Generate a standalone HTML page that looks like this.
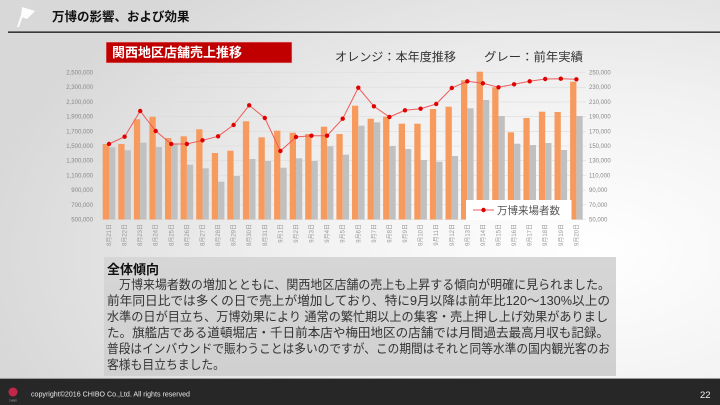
<!DOCTYPE html>
<html><head><meta charset="utf-8"><style>
html,body{margin:0;padding:0;width:720px;height:405px;overflow:hidden;background:#e0e0e0}
svg{display:block}
text{font-family:"Liberation Sans","Noto Sans CJK JP",sans-serif}
</style></head><body>
<svg width="720" height="405" viewBox="0 0 720 405" xmlns="http://www.w3.org/2000/svg">
<defs>
<radialGradient id="bg" cx="0.82" cy="0.62" r="0.85">
<stop offset="0" stop-color="#ffffff"/><stop offset="0.45" stop-color="#f2f2f2"/><stop offset="1" stop-color="#d8d8d8"/>
</radialGradient>
<linearGradient id="box" x1="0" y1="0" x2="0" y2="1"><stop offset="0" stop-color="#d6d6d6"/><stop offset="1" stop-color="#d0d0d0"/></linearGradient>
</defs>
<rect width="720" height="405" fill="url(#bg)"/>
<!-- header -->
<g fill="#fff" opacity="0.95">
<polygon points="17,27 19,27 25,10 23,9"/>
<polygon points="22,7 35,11 27,19 21,17"/>
</g>
<text x="52" y="21" font-size="12.5" font-weight="bold" fill="#111">万博の影響、および効果</text>
<rect x="8" y="31.5" width="712" height="1.3" fill="#111"/>
<!-- red title -->
<rect x="106" y="42" width="186" height="21" fill="#c00000" stroke="#f0c8c8" stroke-width="0.6"/>
<text x="112" y="57" font-size="13" font-weight="bold" fill="#fff">関西地区店舗売上推移</text>
<text x="335" y="61" font-size="12" fill="#333" textLength="121" lengthAdjust="spacingAndGlyphs">オレンジ：本年度推移</text>
<text x="484" y="61" font-size="12" fill="#333" textLength="99" lengthAdjust="spacingAndGlyphs">グレー：前年実績</text>
<!-- gridlines -->
<g stroke="#dcdcdc" stroke-width="0.6">
<line x1="100" x2="586" y1="72.5" y2="72.5"/><line x1="100" x2="586" y1="87.2" y2="87.2"/><line x1="100" x2="586" y1="101.9" y2="101.9"/><line x1="100" x2="586" y1="116.6" y2="116.6"/><line x1="100" x2="586" y1="131.3" y2="131.3"/><line x1="100" x2="586" y1="146" y2="146"/><line x1="100" x2="586" y1="160.7" y2="160.7"/><line x1="100" x2="586" y1="175.4" y2="175.4"/><line x1="100" x2="586" y1="190.1" y2="190.1"/><line x1="100" x2="586" y1="204.8" y2="204.8"/><line x1="100" x2="586" y1="219.5" y2="219.5"/>
</g>
<!-- left axis -->
<g font-size="6" fill="#888" text-anchor="end">
<text x="93" y="74.5">2,500,000</text><text x="93" y="89.2">2,300,000</text><text x="93" y="103.9">2,100,000</text><text x="93" y="118.6">1,900,000</text><text x="93" y="133.3">1,700,000</text><text x="93" y="148">1,500,000</text><text x="93" y="162.7">1,300,000</text><text x="93" y="177.4">1,100,000</text><text x="93" y="192.1">900,000</text><text x="93" y="206.8">700,000</text><text x="93" y="221.5">500,000</text>
</g>
<g font-size="6" fill="#888">
<text x="589" y="74.5">250,000</text><text x="589" y="89.2">230,000</text><text x="589" y="103.9">210,000</text><text x="589" y="118.6">190,000</text><text x="589" y="133.3">170,000</text><text x="589" y="148">150,000</text><text x="589" y="162.7">130,000</text><text x="589" y="177.4">110,000</text><text x="589" y="192.1">90,000</text><text x="589" y="206.8">70,000</text><text x="589" y="221.5">50,000</text>
</g>
<!-- orange bars -->
<g fill="#f79a5e">
<rect x="102.7" y="144" width="6.3" height="75.5"/>
<rect x="118.3" y="144" width="6.3" height="75.5"/>
<rect x="133.9" y="119.3" width="6.3" height="100.2"/>
<rect x="149.4" y="116.7" width="6.3" height="102.8"/>
<rect x="165" y="138" width="6.3" height="81.5"/>
<rect x="180.6" y="136.3" width="6.3" height="83.2"/>
<rect x="196.2" y="129.3" width="6.3" height="90.2"/>
<rect x="211.8" y="153" width="6.3" height="66.5"/>
<rect x="227.3" y="150.7" width="6.3" height="68.8"/>
<rect x="242.9" y="121.3" width="6.3" height="98.2"/>
<rect x="258.5" y="137.3" width="6.3" height="82.2"/>
<rect x="274.1" y="130.7" width="6.3" height="88.8"/>
<rect x="289.7" y="132.7" width="6.3" height="86.8"/>
<rect x="305.2" y="134" width="6.3" height="85.5"/>
<rect x="320.8" y="126.7" width="6.3" height="92.8"/>
<rect x="336.4" y="134" width="6.3" height="85.5"/>
<rect x="352" y="105.7" width="6.3" height="113.8"/>
<rect x="367.6" y="118.7" width="6.3" height="100.8"/>
<rect x="383.1" y="116.7" width="6.3" height="102.8"/>
<rect x="398.7" y="123.7" width="6.3" height="95.8"/>
<rect x="414.3" y="123.7" width="6.3" height="95.8"/>
<rect x="429.9" y="109" width="6.3" height="110.5"/>
<rect x="445.5" y="106.7" width="6.3" height="112.8"/>
<rect x="461" y="80.3" width="6.3" height="139.2"/>
<rect x="476.6" y="71.7" width="6.3" height="147.8"/>
<rect x="492.2" y="87.3" width="6.3" height="132.2"/>
<rect x="507.8" y="132.3" width="6.3" height="87.2"/>
<rect x="523.4" y="118" width="6.3" height="101.5"/>
<rect x="538.9" y="111.7" width="6.3" height="107.8"/>
<rect x="554.5" y="112" width="6.3" height="107.5"/>
<rect x="570.1" y="81.7" width="6.3" height="137.8"/>
</g>
<!-- gray bars -->
<g fill="#c0c0c0">
<rect x="109" y="147.3" width="6.3" height="72.2"/>
<rect x="124.6" y="150.3" width="6.3" height="69.2"/>
<rect x="140.2" y="142.7" width="6.3" height="76.8"/>
<rect x="155.7" y="147" width="6.3" height="72.5"/>
<rect x="171.3" y="143.3" width="6.3" height="76.2"/>
<rect x="186.9" y="164.7" width="6.3" height="54.8"/>
<rect x="202.5" y="168.3" width="6.3" height="51.2"/>
<rect x="218.1" y="181.7" width="6.3" height="37.8"/>
<rect x="233.6" y="176" width="6.3" height="43.5"/>
<rect x="249.2" y="159" width="6.3" height="60.5"/>
<rect x="264.8" y="161" width="6.3" height="58.5"/>
<rect x="280.4" y="167.7" width="6.3" height="51.8"/>
<rect x="296" y="158.3" width="6.3" height="61.2"/>
<rect x="311.5" y="161" width="6.3" height="58.5"/>
<rect x="327.1" y="146.3" width="6.3" height="73.2"/>
<rect x="342.7" y="154.7" width="6.3" height="64.8"/>
<rect x="358.3" y="125.7" width="6.3" height="93.8"/>
<rect x="373.9" y="122.3" width="6.3" height="97.2"/>
<rect x="389.4" y="146" width="6.3" height="73.5"/>
<rect x="405" y="149" width="6.3" height="70.5"/>
<rect x="420.6" y="160" width="6.3" height="59.5"/>
<rect x="436.2" y="161.7" width="6.3" height="57.8"/>
<rect x="451.8" y="156" width="6.3" height="63.5"/>
<rect x="467.3" y="108.3" width="6.3" height="111.2"/>
<rect x="482.9" y="100" width="6.3" height="119.5"/>
<rect x="498.5" y="116" width="6.3" height="103.5"/>
<rect x="514.1" y="143.7" width="6.3" height="75.8"/>
<rect x="529.7" y="145" width="6.3" height="74.5"/>
<rect x="545.2" y="143" width="6.3" height="76.5"/>
<rect x="560.8" y="150" width="6.3" height="69.5"/>
<rect x="576.4" y="116" width="6.3" height="103.5"/>
</g>
<!-- line -->
<polyline fill="none" stroke="#f05a5a" stroke-width="1" points="109,144 124.6,136.7 140.2,111 155.7,131 171.3,144 186.9,144 202.5,140.3 218.1,136.3 233.6,125 249.2,105.3 264.8,118 280.4,151 296,137 311.5,135.7 327.1,135.7 342.7,118.7 358.3,87.7 373.9,106.3 389.4,117 405,110.3 420.6,108.7 436.2,104 451.8,88 467.3,81.3 482.9,83.3 498.5,87.3 514.1,84.3 529.7,81.3 545.2,79 560.8,78.7 576.4,79.3"/>
<g fill="#e00000">
<circle cx="109" cy="144" r="2.2"/><circle cx="124.6" cy="136.7" r="2.2"/><circle cx="140.2" cy="111" r="2.2"/><circle cx="155.7" cy="131" r="2.2"/><circle cx="171.3" cy="144" r="2.2"/><circle cx="186.9" cy="144" r="2.2"/><circle cx="202.5" cy="140.3" r="2.2"/><circle cx="218.1" cy="136.3" r="2.2"/><circle cx="233.6" cy="125" r="2.2"/><circle cx="249.2" cy="105.3" r="2.2"/><circle cx="264.8" cy="118" r="2.2"/><circle cx="280.4" cy="151" r="2.2"/><circle cx="296" cy="137" r="2.2"/><circle cx="311.5" cy="135.7" r="2.2"/><circle cx="327.1" cy="135.7" r="2.2"/><circle cx="342.7" cy="118.7" r="2.2"/><circle cx="358.3" cy="87.7" r="2.2"/><circle cx="373.9" cy="106.3" r="2.2"/><circle cx="389.4" cy="117" r="2.2"/><circle cx="405" cy="110.3" r="2.2"/><circle cx="420.6" cy="108.7" r="2.2"/><circle cx="436.2" cy="104" r="2.2"/><circle cx="451.8" cy="88" r="2.2"/><circle cx="467.3" cy="81.3" r="2.2"/><circle cx="482.9" cy="83.3" r="2.2"/><circle cx="498.5" cy="87.3" r="2.2"/><circle cx="514.1" cy="84.3" r="2.2"/><circle cx="529.7" cy="81.3" r="2.2"/><circle cx="545.2" cy="79" r="2.2"/><circle cx="560.8" cy="78.7" r="2.2"/><circle cx="576.4" cy="79.3" r="2.2"/>
</g>
<!-- legend -->
<rect x="466" y="200" width="105.5" height="20" fill="#ffffff"/>
<line x1="473" x2="494" y1="210" y2="210" stroke="#f05a5a" stroke-width="1"/>
<circle cx="483.5" cy="210" r="2.2" fill="#e00000"/>
<text x="497" y="214" font-size="10.5" fill="#555" textLength="63" lengthAdjust="spacingAndGlyphs">万博来場者数</text>
<!-- x labels -->
<g font-size="6" fill="#999" text-anchor="end">
<text transform="translate(111,224) rotate(-90)">8月21日</text>
<text transform="translate(126.6,224) rotate(-90)">8月22日</text>
<text transform="translate(142.2,224) rotate(-90)">8月23日</text>
<text transform="translate(157.7,224) rotate(-90)">8月24日</text>
<text transform="translate(173.3,224) rotate(-90)">8月25日</text>
<text transform="translate(188.9,224) rotate(-90)">8月26日</text>
<text transform="translate(204.5,224) rotate(-90)">8月27日</text>
<text transform="translate(220.1,224) rotate(-90)">8月28日</text>
<text transform="translate(235.6,224) rotate(-90)">8月29日</text>
<text transform="translate(251.2,224) rotate(-90)">8月30日</text>
<text transform="translate(266.8,224) rotate(-90)">8月31日</text>
<text transform="translate(282.4,224) rotate(-90)">9月1日</text>
<text transform="translate(298,224) rotate(-90)">9月2日</text>
<text transform="translate(313.5,224) rotate(-90)">9月3日</text>
<text transform="translate(329.1,224) rotate(-90)">9月4日</text>
<text transform="translate(344.7,224) rotate(-90)">9月5日</text>
<text transform="translate(360.3,224) rotate(-90)">9月6日</text>
<text transform="translate(375.9,224) rotate(-90)">9月7日</text>
<text transform="translate(391.4,224) rotate(-90)">9月8日</text>
<text transform="translate(407,224) rotate(-90)">9月9日</text>
<text transform="translate(422.6,224) rotate(-90)">9月10日</text>
<text transform="translate(438.2,224) rotate(-90)">9月11日</text>
<text transform="translate(453.8,224) rotate(-90)">9月12日</text>
<text transform="translate(469.3,224) rotate(-90)">9月13日</text>
<text transform="translate(484.9,224) rotate(-90)">9月14日</text>
<text transform="translate(500.5,224) rotate(-90)">9月15日</text>
<text transform="translate(516.1,224) rotate(-90)">9月16日</text>
<text transform="translate(531.7,224) rotate(-90)">9月17日</text>
<text transform="translate(547.2,224) rotate(-90)">9月18日</text>
<text transform="translate(562.8,224) rotate(-90)">9月19日</text>
<text transform="translate(578.4,224) rotate(-90)">9月20日</text>
</g>
<!-- text box -->
<rect x="104" y="257" width="512" height="119" fill="url(#box)"/>
<text x="107" y="274" font-size="13" font-weight="bold" fill="#111">全体傾向</text>
<g font-size="12.5" fill="#333">
<text x="107" y="289" textLength="503" lengthAdjust="spacingAndGlyphs">　万博来場者数の増加とともに、関西地区店舗の売上も上昇する傾向が明確に見られました。</text>
<text x="107" y="305" textLength="503" lengthAdjust="spacingAndGlyphs">前年同日比では多くの日で売上が増加しており、特に9月以降は前年比120～130%以上の</text>
<text x="107" y="321" textLength="501" lengthAdjust="spacingAndGlyphs">水準の日が目立ち、万博効果により 通常の繁忙期以上の集客・売上押し上げ効果がありまし</text>
<text x="107" y="337" textLength="502" lengthAdjust="spacingAndGlyphs">た。旗艦店である道頓堀店・千日前本店や梅田地区の店舗では月間過去最高月収も記録。</text>
<text x="107" y="353" textLength="503" lengthAdjust="spacingAndGlyphs">普段はインバウンドで賑わうことは多いのですが、この期間はそれと同等水準の国内観光客のお</text>
<text x="107" y="369" textLength="118" lengthAdjust="spacingAndGlyphs">客様も目立ちました。</text>
</g>
<!-- footer -->
<rect x="0" y="378" width="720" height="1" fill="#9a9a9a"/>
<rect x="0" y="379" width="720" height="26" fill="#272727"/>
<circle cx="13" cy="392" r="4.5" fill="#c2274a"/>
<text x="13" y="401.5" font-size="2.5" fill="#aaa" text-anchor="middle">CHIBO</text>
<text x="31" y="396.5" font-size="7" fill="#e8e8e8" textLength="159" lengthAdjust="spacingAndGlyphs">copyright©2016  CHIBO Co.,Ltd. All rights reserved</text>
<text x="700" y="398" font-size="9.5" fill="#f0f0f0">22</text>
</svg>
</body></html>
